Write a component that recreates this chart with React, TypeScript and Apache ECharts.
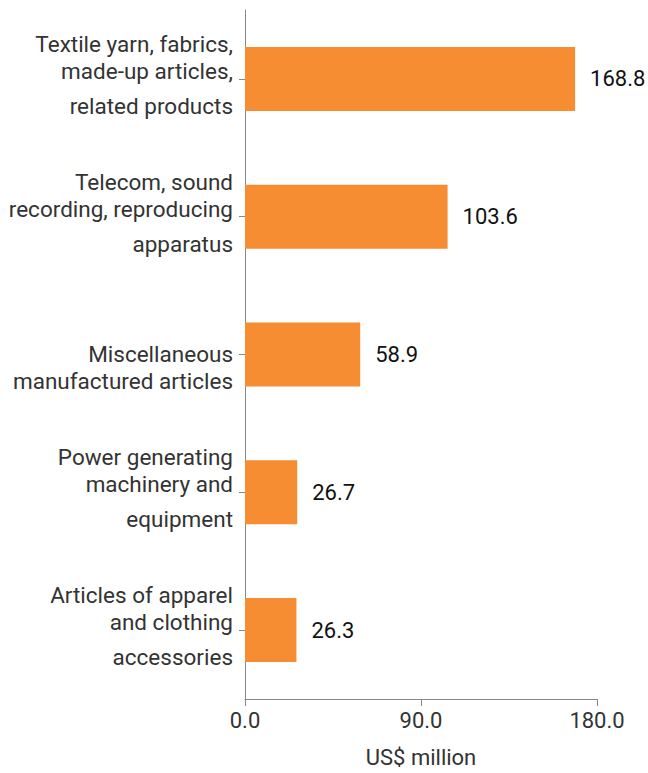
import React, { useEffect, useRef } from "react";
import * as echarts from "echarts";

const categories: string[][] = [
  ["Textile yarn, fabrics,", "made-up articles,", "related products"],
  ["Telecom, sound", "recording, reproducing", "apparatus"],
  ["Miscellaneous", "manufactured articles"],
  ["Power generating", "machinery and", "equipment"],
  ["Articles of apparel", "and clothing", "accessories"],
];
const values: number[] = [168.8, 103.6, 58.9, 26.7, 26.3];
const xTicks: number[] = [0, 90, 180];
const xAxisName = "US$ million";

const FONT = "Roboto";
const FS = 22;
const CFS = 22.5;

export default function App() {
  const ref = useRef<HTMLDivElement>(null);
  useEffect(() => {
    document.body.style.margin = "0";
    if (!ref.current) return;
    const chart = echarts.init(ref.current, null, { renderer: "svg" });
    const catKeys = categories.map((c) => c.join("|"));
    chart.setOption({
      animation: false,
      grid: { left: 245, right: 51, top: 10, bottom: 73, containLabel: false },
      xAxis: {
        type: "value",
        min: xTicks[0],
        max: xTicks[xTicks.length - 1],
        interval: xTicks[1] - xTicks[0],
        splitLine: { show: false },
        axisLine: { show: true, lineStyle: { color: "#888", width: 1 } },
        axisTick: { show: true, length: 7, lineStyle: { color: "#888" } },
        axisLabel: {
          formatter: (v: number) => v.toFixed(1),
          color: "#333",
          fontFamily: FONT,
          fontSize: FS,
          margin: 10,
        },
        name: xAxisName,
        nameLocation: "middle",
        nameGap: 47,
        nameTextStyle: { color: "#333", fontFamily: FONT, fontSize: FS },
      },
      yAxis: {
        type: "category",
        inverse: true,
        data: catKeys,
        axisLine: { show: true, lineStyle: { color: "#888", width: 1 } },
        axisTick: { show: true, alignWithLabel: true, length: 6, lineStyle: { color: "#888" } },
        axisLabel: {
          margin: 12,
          color: "#333",
          fontFamily: FONT,
          fontSize: CFS,
          align: "right",
          formatter: (v: string) => {
            const lines = v.split("|");
            if (lines.length === 3) {
              return `{a|${lines[0]}}\n{a|${lines[1]}}\n{c|${lines[2]}}`;
            }
            return `{b| }\n{a|${lines[0]}}\n{a|${lines[1]}}`;
          },
          rich: {
            a: { lineHeight: 27, fontSize: CFS, fontFamily: FONT, color: "#333", align: "right" },
            b: { lineHeight: 26, fontSize: CFS, fontFamily: FONT, color: "#333", align: "right" },
            c: { lineHeight: 43, fontSize: CFS, fontFamily: FONT, color: "#333", align: "right" },
          },
        },
      },
      series: [
        {
          type: "bar",
          data: values,
          barWidth: 64,
          itemStyle: { color: "#F68D33" },
          label: {
            show: true,
            position: "right",
            distance: 15,
            color: "#111",
            fontFamily: FONT,
            fontSize: FS,
            formatter: (p: any) => Number(p.value).toFixed(1),
          },
        },
      ],
    });
    return () => chart.dispose();
  }, []);
  return <div ref={ref} style={{ width: 648, height: 773 }} />;
}
